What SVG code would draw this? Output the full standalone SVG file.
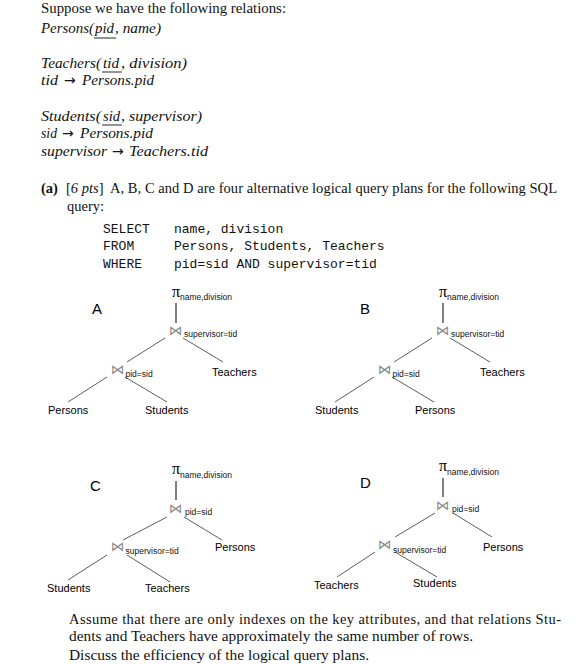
<svg xmlns="http://www.w3.org/2000/svg" width="582" height="664" viewBox="0 0 582 664">
<style>
.body{font-family:"Liberation Serif","Times New Roman",serif;font-size:14.5px;fill:#111}
.it{font-family:"Liberation Serif","Times New Roman",serif;font-style:italic;font-size:15px;fill:#111}
.arr{font-family:"DejaVu Sans",sans-serif;font-style:normal;font-size:14px;fill:#111}
.b{font-weight:bold}
.i{font-style:italic}
.mono{font-family:"Liberation Mono","Courier New",monospace;font-size:13px;fill:#111}
.lbl{font-family:"Liberation Sans",Arial,sans-serif;font-size:11px;fill:#000}
.sub{font-family:"Liberation Sans",Arial,sans-serif;font-size:8.5px;fill:#111}
.big{font-family:"Liberation Sans",Arial,sans-serif;font-size:15px;fill:#000}
.pi{font-family:"Liberation Serif","Times New Roman",serif;font-size:16px;fill:#000}
.bt{font-family:"DejaVu Sans",sans-serif;font-size:13.5px;fill:#8a8a8a}
.ul{stroke:#111;stroke-width:0.9}
.edge{stroke:#333;stroke-width:0.8;fill:none}
.proj{stroke:#000;stroke-width:1;fill:none}
</style>
<rect width="582" height="664" fill="#fff"/>

<g id="intro">
<text class="body" x="41" y="13" textLength="245" lengthAdjust="spacingAndGlyphs">Suppose we have the following relations:</text>
<text class="it" y="33"><tspan x="41" textLength="53" lengthAdjust="spacingAndGlyphs">Persons(</tspan><tspan x="95" textLength="19" lengthAdjust="spacingAndGlyphs">pid</tspan><tspan x="115" textLength="46" lengthAdjust="spacingAndGlyphs">, name)</tspan></text>
<line class="ul" x1="94" y1="38" x2="116" y2="38"/>
<text class="it" y="68"><tspan x="41" textLength="60" lengthAdjust="spacingAndGlyphs">Teachers(</tspan><tspan x="103" textLength="16" lengthAdjust="spacingAndGlyphs">tid</tspan><tspan x="121" textLength="66" lengthAdjust="spacingAndGlyphs">, division)</tspan></text>
<line class="ul" x1="102" y1="72" x2="122" y2="72"/>
<text class="it" y="85"><tspan x="41" textLength="17" lengthAdjust="spacingAndGlyphs">tid</tspan><tspan class="arr" x="64">→</tspan><tspan x="82" textLength="72" lengthAdjust="spacingAndGlyphs">Persons.pid</tspan></text>
<text class="it" y="121"><tspan x="41" textLength="60" lengthAdjust="spacingAndGlyphs">Students(</tspan><tspan x="103" textLength="17" lengthAdjust="spacingAndGlyphs">sid</tspan><tspan x="121" textLength="81" lengthAdjust="spacingAndGlyphs">, supervisor)</tspan></text>
<line class="ul" x1="102" y1="125" x2="122" y2="125"/>
<text class="it" y="138"><tspan x="41" textLength="16" lengthAdjust="spacingAndGlyphs">sid</tspan><tspan class="arr" x="62">→</tspan><tspan x="80" textLength="73" lengthAdjust="spacingAndGlyphs">Persons.pid</tspan></text>
<text class="it" y="156"><tspan x="41" textLength="66" lengthAdjust="spacingAndGlyphs">supervisor</tspan><tspan class="arr" x="112">→</tspan><tspan x="129" textLength="79" lengthAdjust="spacingAndGlyphs">Teachers.tid</tspan></text>
</g>

<g id="question">
<text class="body" x="41" y="193"><tspan class="b">(a)</tspan></text>
<text class="body" x="66" y="193">[<tspan class="i">6 pts</tspan>]</text>
<text class="body" x="110" y="193" textLength="447" lengthAdjust="spacing">A, B, C and D are four alternative logical query plans for the following SQL</text>
<text class="body" x="67" y="211">query:</text>
</g>

<g id="sql">
<text class="mono" x="103" y="233">SELECT</text>
<text class="mono" x="174" y="233">name, division</text>
<text class="mono" x="103" y="250">FROM</text>
<text class="mono" x="174" y="250">Persons, Students, Teachers</text>
<text class="mono" x="103" y="268">WHERE</text>
<text class="mono" x="174" y="268">pid=sid AND supervisor=tid</text>
</g>

<g id="connectors">
<line class="proj" x1="176" y1="303" x2="176" y2="323"/>
<line class="edge" x1="165" y1="338" x2="127" y2="362"/>
<line class="edge" x1="183" y1="338" x2="223" y2="362"/>
<line class="edge" x1="107" y1="377" x2="68" y2="402"/>
<line class="edge" x1="125" y1="377" x2="167" y2="402"/>
<line class="proj" x1="443" y1="303" x2="443" y2="323"/>
<line class="edge" x1="432" y1="338" x2="394" y2="362"/>
<line class="edge" x1="450" y1="338" x2="490" y2="362"/>
<line class="edge" x1="374" y1="377" x2="335" y2="402"/>
<line class="edge" x1="392" y1="377" x2="434" y2="402"/>
<line class="proj" x1="176" y1="481" x2="176" y2="500"/>
<line class="edge" x1="167" y1="517" x2="123" y2="540"/>
<line class="edge" x1="184" y1="517" x2="222" y2="540"/>
<line class="edge" x1="107" y1="555" x2="68" y2="580"/>
<line class="edge" x1="127" y1="555" x2="170" y2="582"/>
<line class="proj" x1="443" y1="478" x2="443" y2="497"/>
<line class="edge" x1="435" y1="513" x2="395" y2="537"/>
<line class="edge" x1="453" y1="513" x2="492" y2="537"/>
<line class="edge" x1="375" y1="552" x2="337" y2="577"/>
<line class="edge" x1="395" y1="552" x2="437" y2="577"/>
</g>

<g id="A-title"><text class="big" x="92" y="314">A</text></g>
<g id="A-proj"><text class="pi" x="172" y="297">π</text><text class="sub" x="180" y="300">name,division</text></g>
<g id="A-join1"><text class="bt" x="169" y="335">⋈</text><text class="sub" x="184" y="336.5">supervisor=tid</text></g>
<g id="A-teachers"><text class="lbl" x="212" y="376">Teachers</text></g>
<g id="A-join2"><text class="bt" x="111" y="374">⋈</text><text class="sub" x="125.5" y="376.5">pid=sid</text></g>
<g id="A-persons"><text class="lbl" x="48" y="414">Persons</text></g>
<g id="A-students"><text class="lbl" x="145" y="414">Students</text></g>

<g id="B-title"><text class="big" x="360" y="314">B</text></g>
<g id="B-proj"><text class="pi" x="439" y="297">π</text><text class="sub" x="447" y="300">name,division</text></g>
<g id="B-join1"><text class="bt" x="436" y="335">⋈</text><text class="sub" x="451" y="336.5">supervisor=tid</text></g>
<g id="B-teachers"><text class="lbl" x="480" y="376">Teachers</text></g>
<g id="B-join2"><text class="bt" x="378" y="374">⋈</text><text class="sub" x="392.5" y="376.5">pid=sid</text></g>
<g id="B-students"><text class="lbl" x="315" y="414">Students</text></g>
<g id="B-persons"><text class="lbl" x="415" y="414">Persons</text></g>

<g id="C-title"><text class="big" x="90" y="491">C</text></g>
<g id="C-proj"><text class="pi" x="172" y="474">π</text><text class="sub" x="180" y="478">name,division</text></g>
<g id="C-join1"><text class="bt" x="169" y="513">⋈</text><text class="sub" x="185" y="514.5">pid=sid</text></g>
<g id="C-persons"><text class="lbl" x="215" y="551">Persons</text></g>
<g id="C-join2"><text class="bt" x="111" y="551">⋈</text><text class="sub" x="125.5" y="553.5">supervisor=tid</text></g>
<g id="C-students"><text class="lbl" x="47" y="592">Students</text></g>
<g id="C-teachers"><text class="lbl" x="145" y="592">Teachers</text></g>

<g id="D-title"><text class="big" x="360" y="488">D</text></g>
<g id="D-proj"><text class="pi" x="439" y="471">π</text><text class="sub" x="447" y="475">name,division</text></g>
<g id="D-join1"><text class="bt" x="436" y="510">⋈</text><text class="sub" x="452" y="511.5">pid=sid</text></g>
<g id="D-persons"><text class="lbl" x="483" y="551">Persons</text></g>
<g id="D-join2"><text class="bt" x="378" y="549">⋈</text><text class="sub" x="393" y="552.5">supervisor=tid</text></g>
<g id="D-teachers"><text class="lbl" x="314" y="589">Teachers</text></g>
<g id="D-students"><text class="lbl" x="413" y="587">Students</text></g>

<g id="closing">
<text class="body" x="69" y="624" textLength="492" lengthAdjust="spacing">Assume that there are only indexes on the key attributes, and that relations Stu-</text>
<text class="body" x="69" y="641" textLength="404" lengthAdjust="spacingAndGlyphs">dents and Teachers have approximately the same number of rows.</text>
<text class="body" x="69" y="660" textLength="300" lengthAdjust="spacingAndGlyphs">Discuss the efficiency of the logical query plans.</text>
</g>
</svg>
